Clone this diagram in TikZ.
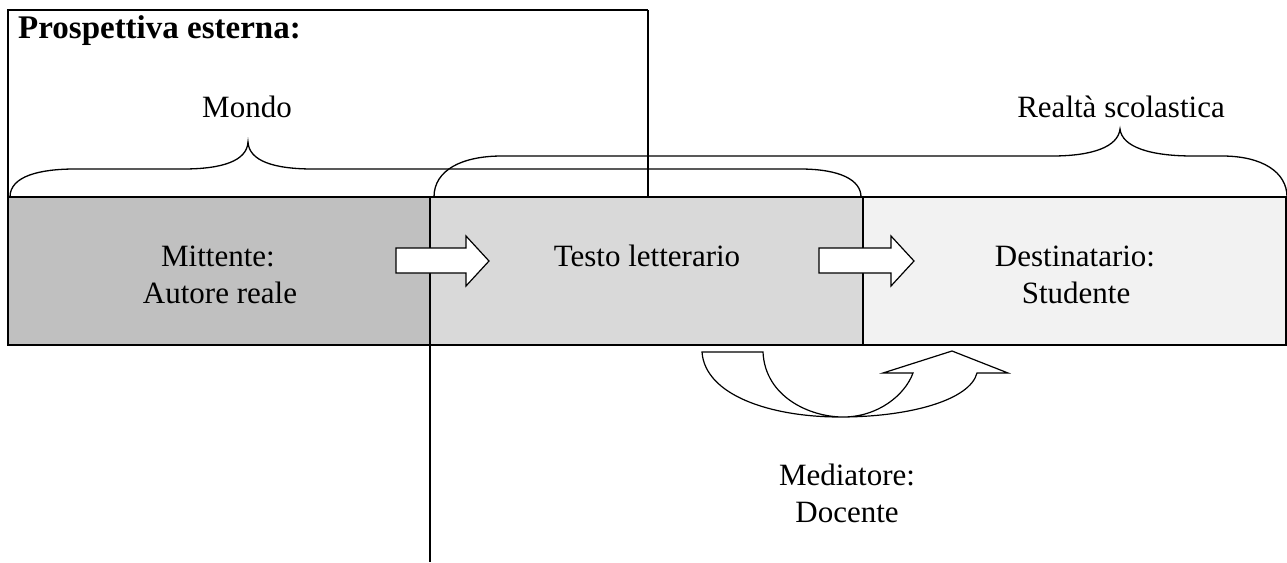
\documentclass[tikz,border=0pt]{standalone}
\usepackage{fontspec}
\setmainfont{Liberation Serif}
\begin{document}
\begin{tikzpicture}[x=1pt,y=-1pt,
  txt/.style={font=\fontsize{31}{37}\selectfont, inner sep=0pt, anchor=base},
  cell/.style={draw=black, line width=1.6pt, minimum height=148pt, inner sep=0pt},
  frameline/.style={line width=1.6pt},
  thinline/.style={line width=1.1pt},
  bracepath/.style={line width=1.3pt},
  blockarrow/.style={draw=black, line width=1.2pt, fill=white, line join=miter}]
\useasboundingbox (0,0) rectangle (1287,562);

% row of cells
\node[cell, fill={rgb,255:red,192;green,192;blue,192}, minimum width=422pt] (mitt) at (219,271) {};
\node[cell, fill={rgb,255:red,217;green,217;blue,217}, minimum width=433pt] (testo) at (646.5,271) {};
\node[cell, fill={rgb,255:red,242;green,242;blue,242}, minimum width=423pt] (dest) at (1074.5,271) {};

% top frame
\coordinate (tl) at (8,10);
\coordinate (tr) at (648,10);
\coordinate (bl) at (8,197);
\coordinate (br) at (648,197);
\draw[frameline] (bl) -- (tl) -- (tr);
\draw[thinline] (tr) -- (br);

% lower vertical line
\coordinate (vtop) at (430,345);
\coordinate (vbot) at (430,562);
\draw[thinline] (vtop) -- (vbot);

% braces
\draw[bracepath] (10,197) .. controls (10,176) and (40,169) .. (75,169) -- (183,169)
  .. controls (222,169) and (247,161) .. (248,142)
  .. controls (249,161) and (274,169) .. (313,169) -- (800,169)
  .. controls (840,169) and (861,180) .. (861,197);
\draw[bracepath] (434,197) .. controls (434,170) and (462,156) .. (502,156) -- (1052,156)
  .. controls (1092,156) and (1118,147) .. (1120,129)
  .. controls (1122,147) and (1150,156) .. (1193,156) -- (1222,156)
  .. controls (1262,156) and (1287,172) .. (1287,197);

% block arrows
\draw[blockarrow] (396,248) -- (466,248) -- (466,236) -- (489,261) -- (466,286) -- (466,273) -- (396,273) -- cycle;
\draw[blockarrow] (819,248) -- (891,248) -- (891,236) -- (914,261) -- (891,286) -- (891,273) -- (819,273) -- cycle;

% curved (U-turn) arrow
\draw[blockarrow] (702,352) -- (763,352)
  .. controls (765,397) and (810,417) .. (843,417)
  .. controls (878,417) and (905,395) .. (913,373)
  -- (883,373) -- (952,351) -- (1008,373) -- (977,373)
  .. controls (970,400) and (910,417) .. (840,417)
  .. controls (770,417) and (705,395) .. (702,352) -- cycle;

% texts
\node[txt, anchor=base west, font=\fontsize{33}{39}\selectfont\bfseries] (pe) at (18,38) {Prospettiva esterna:};
\node[txt] (mondo) at (247,117) {Mondo};
\node[txt] (realta) at (1121,117) {Realtà scolastica};
\node[txt] (mitt1) at (218,266) {Mittente:};
\node[txt] (mitt2) at (220,303) {Autore reale};
\node[txt] (testot) at (647,266) {Testo letterario};
\node[txt] (dest1) at (1075,266) {Destinatario:};
\node[txt] (dest2) at (1076,303) {Studente};
\node[txt] (med1) at (847,485) {Mediatore:};
\node[txt] (med2) at (847,522) {Docente};
\end{tikzpicture}
\end{document}
